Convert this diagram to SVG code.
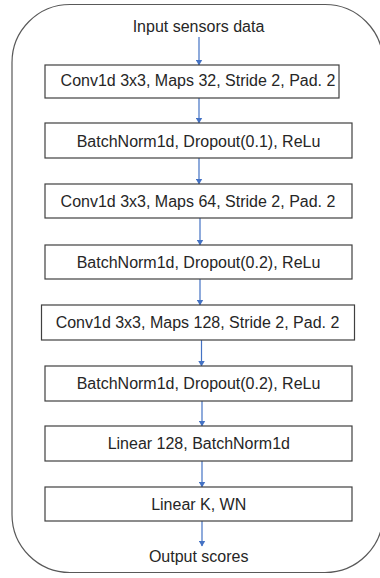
<svg xmlns="http://www.w3.org/2000/svg" width="380" height="578" viewBox="0 0 380 578">
  <style>
    .frame { fill: #ffffff; stroke: #595959; stroke-width: 1.2; }
    .box { fill: #ffffff; stroke: #404040; stroke-width: 1.2; }
    .lbl { font-family: "Liberation Sans", Arial, sans-serif; font-size: 16px; fill: #262626; text-anchor: middle; }
    .link { stroke: #4472C4; stroke-width: 1.2; fill: none; marker-end: url(#head); }
  </style>
  <defs>
    <marker id="head" markerWidth="6" markerHeight="7" refX="5.5" refY="3.5" orient="auto" markerUnits="userSpaceOnUse">
      <path d="M0,0 L6,3.5 L0,7 Z" fill="#4472C4"/>
    </marker>
  </defs>

  <rect width="380" height="578" fill="#ffffff"/>

  <!-- outer rounded frame -->
  <rect class="frame" x="12" y="4.5" width="371" height="568" rx="58" ry="58"/>

  <!-- connectors -->
  <g id="connectors">
    <line class="link" x1="199" y1="37" x2="199" y2="65"/>
    <line class="link" x1="199" y1="98" x2="199" y2="123"/>
    <line class="link" x1="199" y1="158" x2="199" y2="184"/>
    <line class="link" x1="200" y1="218" x2="200" y2="245"/>
    <line class="link" x1="200" y1="279" x2="200" y2="305"/>
    <line class="link" x1="201.5" y1="340" x2="201.5" y2="366"/>
    <line class="link" x1="202" y1="401" x2="202" y2="426"/>
    <line class="link" x1="202" y1="461" x2="202" y2="487"/>
    <line class="link" x1="202" y1="521" x2="202" y2="546"/>
  </g>

  <g id="input">
    <text class="lbl" x="198.5" y="32">Input sensors data</text>
  </g>

  <g id="conv1">
    <rect class="box" x="45" y="65" width="294" height="33"/>
    <text class="lbl" x="198" y="86">Conv1d 3x3, Maps 32, Stride 2, Pad. 2</text>
  </g>

  <g id="bn1">
    <rect class="box" x="45" y="123" width="307" height="35"/>
    <text class="lbl" x="198.5" y="147">BatchNorm1d, Dropout(0.1), ReLu</text>
  </g>

  <g id="conv2">
    <rect class="box" x="45" y="184" width="307" height="34"/>
    <text class="lbl" x="198" y="207">Conv1d 3x3, Maps 64, Stride 2, Pad. 2</text>
  </g>

  <g id="bn2">
    <rect class="box" x="45" y="245" width="307" height="34"/>
    <text class="lbl" x="198.5" y="267.5">BatchNorm1d, Dropout(0.2), ReLu</text>
  </g>

  <g id="conv3">
    <rect class="box" x="41.5" y="305" width="313" height="35"/>
    <text class="lbl" x="197.5" y="328">Conv1d 3x3, Maps 128, Stride 2, Pad. 2</text>
  </g>

  <g id="bn3">
    <rect class="box" x="45" y="366" width="307" height="35"/>
    <text class="lbl" x="198.5" y="388.5">BatchNorm1d, Dropout(0.2), ReLu</text>
  </g>

  <g id="linear128">
    <rect class="box" x="45" y="426" width="307" height="35"/>
    <text class="lbl" x="198.8" y="449">Linear 128, BatchNorm1d</text>
  </g>

  <g id="linearK">
    <rect class="box" x="45" y="487" width="307" height="34"/>
    <text class="lbl" x="198.7" y="509.5">Linear K, WN</text>
  </g>

  <g id="output">
    <text class="lbl" x="198.7" y="562">Output scores</text>
  </g>
</svg>
